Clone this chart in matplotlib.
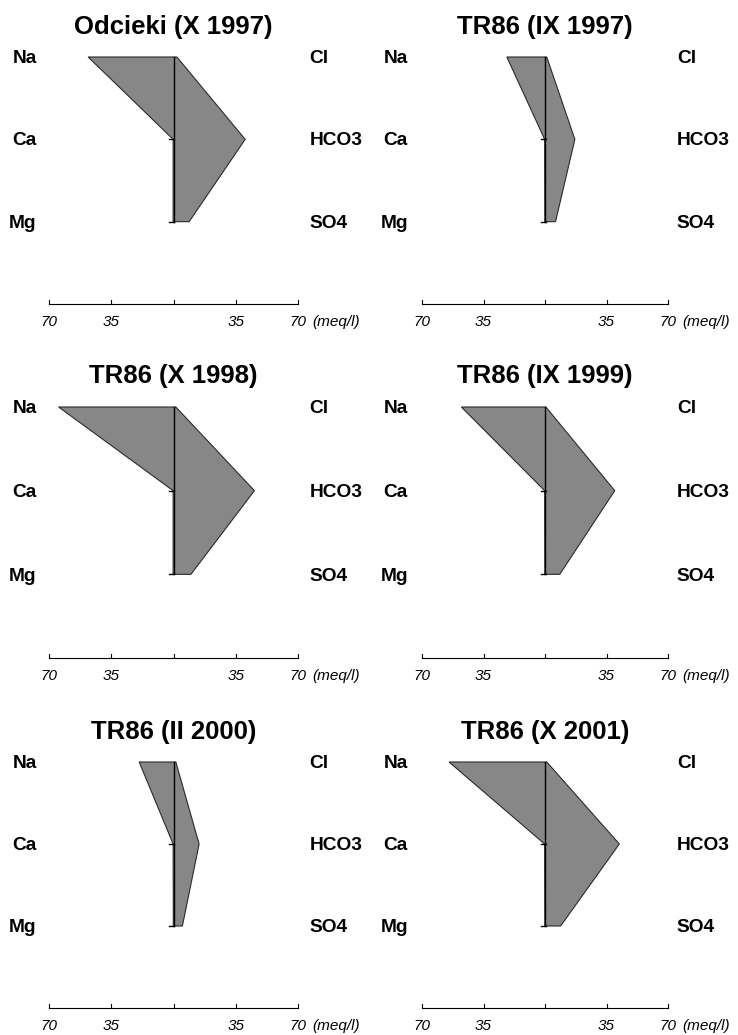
import matplotlib.pyplot as plt

# Stiff diagrams, meq/l
titles = ['Odcieki (X 1997)', 'TR86 (IX 1997)',
          'TR86 (X 1998)', 'TR86 (IX 1999)',
          'TR86 (II 2000)', 'TR86 (X 2001)']
cations = ['Na', 'Ca', 'Mg']
anions = ['Cl', 'HCO3', 'SO4']

na   = [48.0, 21.7, 64.6, 47.6, 19.3, 54.6]
ca   = [0.2, 0.2, 0.2, 0.2, 0.2, 0.2]
mg   = [0.2, 0.1, 0.2, 0.1, 0.1, 0.1]
cl   = [1.9, 1.0, 1.3, 0.5, 1.3, 1.0]
hco3 = [40.3, 17.0, 45.5, 39.7, 14.4, 42.3]
so4  = [8.8, 6.0, 9.8, 8.4, 5.0, 8.9]

tick_vals = [-70, -35, 0, 35, 70]
tick_text = ['70', '35', '', '35', '70']

plt.rcParams['font.family'] = ['Liberation Sans', 'DejaVu Sans']

W, H = 738, 1035
fig = plt.figure(figsize=(W / 100, H / 100), dpi=100)

# pixel layout: (left, width, cation label x, anion label x) per column,
# (top row y, axis line y) per row
cols = [(49, 249, -77, 76.5), (422, 246, -78, 75)]
rows = [(57, 304), (407, 658), (762, 1008)]

for i, title in enumerate(titles):
    cx, cw, lx, rx = cols[i % 2]
    ry, ay = rows[i // 2]
    ax = fig.add_axes([cx / W, 1 - ay / H, cw / W, (ay - ry) / H])
    ax.set_xlim(-70, 70)
    ax.set_ylim(-1, 2)
    ax.axis('off')

    xs = [-na[i], -ca[i], -mg[i], so4[i], hco3[i], cl[i]]
    ys = [2, 1, 0, 0, 1, 2]
    ax.fill(xs, ys, facecolor='#878787', edgecolor='#2a2a2a', lw=0.8,
            clip_on=False, zorder=2)
    ax.plot([0, 0], [0, 2], color='black', lw=1.0, clip_on=False, zorder=3)
    for yy in [1, 0]:
        ax.plot([-2.5, 0.5], [yy, yy], color='black', lw=1.0,
                clip_on=False, zorder=3)

    for k in range(3):
        ax.text(lx, 1.98 - k, cations[k], ha='right', va='center',
                fontsize=13.8, fontweight='bold')
        ax.text(rx, 1.98 - k, anions[k], ha='left', va='center',
                fontsize=13.8, fontweight='bold')

    ax.text(0, 2.37, title, ha='center', va='center', fontsize=18.5,
            fontweight='bold')

    # scale bar
    ax.plot([-70, 70], [-1, -1], color='black', lw=0.8, clip_on=False)
    for tv, tt in zip(tick_vals, tick_text):
        ax.plot([tv, tv], [-1, -0.95], color='black', lw=0.8, clip_on=False)
        if tt:
            ax.text(tv, -1.22, tt, ha='center', va='center', fontsize=11,
                    fontstyle='italic')
    ax.annotate('(meq/l)', xy=(70, -1.22), xytext=(10.5, 0),
                textcoords='offset points', ha='left', va='center',
                fontsize=11, fontstyle='italic', annotation_clip=False)

fig.savefig('out.png', dpi=100)
